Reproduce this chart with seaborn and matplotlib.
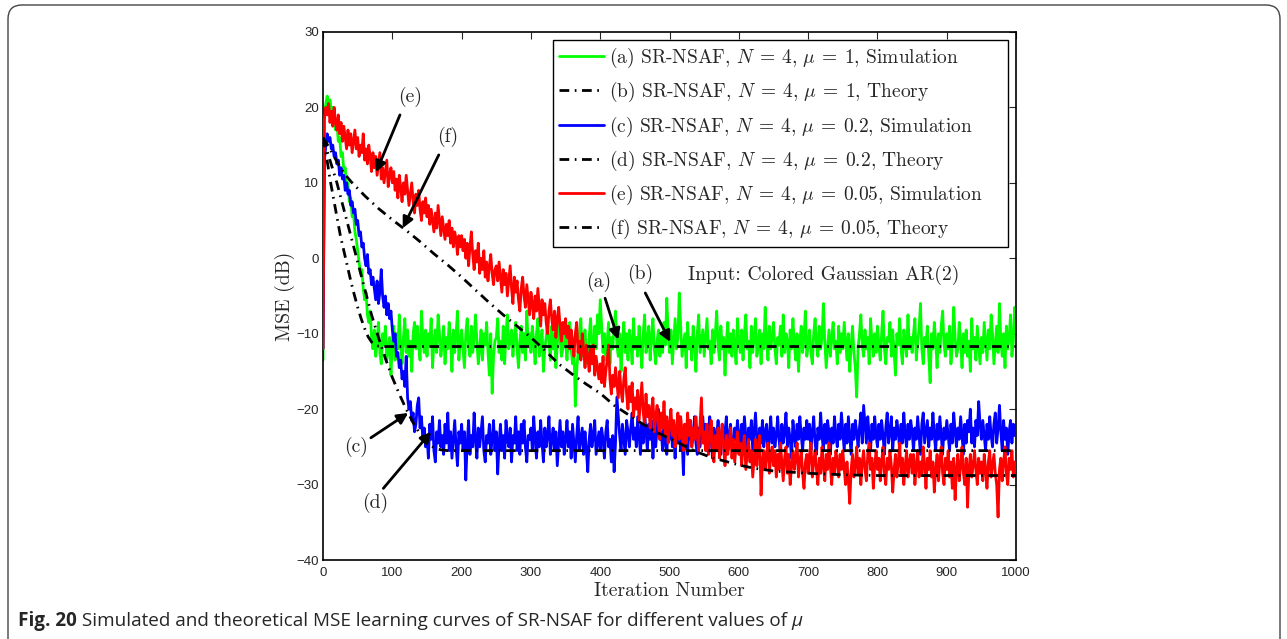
import numpy as np
import pandas as pd
import matplotlib
matplotlib.use("Agg")
import matplotlib.pyplot as plt
import seaborn as sns
from matplotlib.patches import FancyBboxPatch
from matplotlib.transforms import IdentityTransform

# ---------------- data ----------------
# learning curves sampled every 2 iterations (0 ... 1000)
iters = np.arange(0, 1001, 2)

# (a) mu = 1, simulation
sim_mu1 = [
    -13.5, 19, 20.5, 21.5, 20, 21, 19.5, 20, 18.5, 17, 18, 15.5, 16, 13.5, 14, 11.5, 12, 9.5, 10, 7.5, 8, 5.5, 6, 3.5, 2.5,
    1, -0.5, -2, -1.5, -4, -5.5, -4.5, -7.5, -8.5, -7, -10.5, -12, -9.5, -13, -11, -8.5, -12.5, -14, -10, -11.5, -9, -13.5, -12, -10.5, -15.5,
    -11, -9, -13.5, -10, -12, -7.5, -11.5, -14, -10.5, -8, -12.5, -9.5, -13, -11, -15, -10, -8.5, -12, -9, -11.5, -13.5, -7, -10.5, -12.5, -9.5,
    -13, -10, -11.5, -8, -14.5, -11, -9.5, -12.5, -7.5, -10, -13, -11.5, -9, -14, -10.5, -12, -8.5, -11, -15, -9.5, -12.5, -10, -7, -13.5, -11,
    -9.5, -12, -14.5, -10, -8, -11.5, -13, -9, -12.5, -10.5, -7.5, -11, -14, -12, -9.5, -13.5, -10, -11.5, -8.5, -12.5, -15.5, -10, -17.9, -13, -11,
    -10.5, -8, -12.5, -11, -13.5, -9, -14, -10, -7.5, -12, -11, -9.5, -13, -10.5, -8.5, -12, -14.5, -11, -9, -12.5, -10, -13.5, -7, -11.5, -10,
    -12.5, -9, -11, -14, -10, -8, -13, -11.5, -9.5, -15, -12, -10.5, -8.5, -11, -13.5, -9, -12, -10, -14.5, -11.5, -7.5, -10.5, -13, -12, -9.5,
    -11, -13.5, -10, -8.5, -12, -14, -11.5, -19.6, -15, -12.5, -10, -8, -13, -11, -9.5, -12.5, -14, -10.5, -8, -11.5, -13, -9, -12, -7.5, -10,
    -5.5, -9, -12.5, -10, -13.5, -11, -8.5, -14, -10.5, -12, -9, -7, -11.5, -13, -10, -15, -11, -8.5, -12.5, -10, -13.5, -9.5, -11, -14, -8,
    -12, -10.5, -13, -9, -11.5, -14.5, -10, -7.5, -12.5, -11, -9, -13.5, -10.5, -8, -12, -14, -11, -9.5, -13, -10, -12.5, -8.5, -11.5, -5.3, -10,
    -12.5, -9.5, -14, -11, -8, -12, -10.5, -4.6, -9, -13, -11.5, -10, -14.5, -8.5, -12, -10.5, -13.5, -9, -11, -15, -10, -7.5, -12.5, -11, -9.5,
    -13, -10.5, -8, -12, -11, -14, -9.5, -12.5, -10, -7, -11.5, -13.5, -9, -12, -10.5, -15.5, -11, -8.5, -12.5, -10, -13, -9.5, -11.5, -14, -8,
    -11, -12.5, -9.5, -13.5, -10, -7.5, -12, -11, -14.5, -9, -12.5, -10.5, -8, -13, -11.5, -9.5, -14, -10, -12, -6.5, -11, -13.5, -9, -12, -10.5,
    -8.5, -12, -14, -10.5, -11.5, -9, -13, -7.5, -12.5, -10, -11, -14.5, -9.5, -12, -8, -11.5, -13.5, -10, -15, -11, -9, -12.5, -10.5, -7, -13,
    -11.5, -9.5, -12.5, -14, -10, -8, -11.5, -13, -9, -12, -10.5, -6, -11, -14.5, -12, -9.5, -13, -10.5, -8.5, -12, -11, -14, -9, -12.5, -10,
    -12, -8.5, -11, -13.5, -10, -15, -11.5, -9, -12.5, -14.5, -18.4, -12, -10, -7.5, -11.5, -13, -9.5, -12, -10.5, -14, -8, -11, -13, -10, -12.5,
    -9, -11.5, -13.5, -10, -7, -12, -14, -10.5, -11, -8.5, -13, -9.5, -12.5, -15.5, -10, -11.5, -8, -12, -14, -9.5, -11, -13, -7.5, -12, -10.5,
    -12.5, -10, -8, -13.5, -11, -9.5, -6, -12, -14, -10.5, -11.5, -9, -13, -16.5, -10, -12, -8.5, -11, -14.5, -10, -12.5, -9, -7, -11.5, -13,
    -10, -12, -9, -14, -11.5, -6.5, -10.5, -13, -12, -8.5, -11, -14.5, -10, -12.5, -9.5, -13, -11, -15, -8, -12, -10.5, -13.5, -9, -11.5, -14,
    -10.5, -12.5, -8.5, -11, -13.5, -9.5, -12, -7.5, -10, -14, -11.5, -9, -12.5, -6, -11, -13, -10, -14.5, -9, -12, -10.5, -7.5, -13, -11, -6.5,
    -8,
]

# (c) mu = 0.2, simulation
sim_mu02 = [
    -12, 13, 15, 16.5, 15.5, 16, 14.5, 15, 13.5, 14, 12.5, 13, 11, 12, 10.5, 11, 9, 10, 8.5, 9, 7, 7.5, 6, 6.5, 4.5,
    5, 3, 3.5, 1.5, 2, 0, -1, 0.5, -2, -1.5, -3.5, -2.5, -4, -5.5, -3, -6, -4.5, -1.5, -5, -6.5, -5, -7.5, -6, -8, -7,
    -9.5, -11, -10, -13, -12.5, -14.5, -13.5, -16, -15, -17, -13, -18.5, -20, -19, -21.5, -20.5, -23, -22, -19.5, -18.5, -22.5, -21, -24, -22.5, -25,
    -23.5, -26.5, -22, -24, -21, -25.5, -27, -23, -24.5, -21.5, -25, -23.5, -26, -22, -24.5, -20.5, -25.5, -23, -26.5, -24, -21.5, -25, -27.5, -23, -24.5,
    -22, -25.5, -23, -29.4, -24.5, -21.5, -26, -23.5, -25, -20.5, -24, -26.5, -22.5, -25, -23, -21, -25.5, -27, -23.5, -24.5, -22, -26, -24, -21.5, -25.5,
    -23, -28.6, -24.5, -22, -25.5, -23.5, -26.5, -21.5, -24, -25, -22.5, -27, -23.5, -24.5, -21, -25.5, -23, -26, -22, -24.5, -21.5, -25, -27, -23.5, -24,
    -22.5, -25.5, -21, -24, -26.5, -23, -25, -21.5, -24.5, -27, -22.5, -25, -23.5, -21, -26, -24, -22.5, -25.5, -23, -27.5, -24.5, -21.5, -25, -23, -26,
    -24, -21.5, -25, -23, -26.5, -22, -24.5, -27, -23.5, -21, -25.5, -24, -22.5, -26, -23, -25.5, -28.3, -24, -22, -25, -23.5, -21.5, -26, -24.5, -23,
    -25.5, -22.5, -24, -26.5, -23, -21.5, -25, -24, -27, -23.5, -28.3, -24.5, -18.4, -21, -23.5, -25.5, -22, -24, -26, -21.5, -23, -25, -22.5, -20.5, -24,
    -22.5, -25, -21, -23.5, -26, -22, -24.5, -20.5, -23, -25.5, -22, -24, -21.5, -26.5, -23, -25, -22.5, -20, -24, -23, -25.5, -21.5, -24.5, -26, -22,
    -24, -21.5, -25, -23, -26.5, -22.5, -24.5, -21, -25.5, -23.5, -28.7, -22, -24, -26, -23, -21.5, -25, -23.5, -21, -24.5, -26, -22.5, -25, -23, -21,
    -24.5, -22, -25.5, -23, -21, -24, -26.5, -22.5, -25, -23.5, -21.5, -24, -26, -22, -24.5, -23, -21, -25.5, -23.5, -22, -24.5, -26, -22.5, -24, -21.5,
    -23.5, -25, -22, -24.5, -21, -23.5, -26, -22.5, -24, -21.5, -25.5, -23, -20.5, -24, -26, -22.5, -24.5, -21.5, -25, -23, -22, -26.5, -23.5, -21, -24.5,
    -22.5, -25, -23.5, -21, -24, -26, -22, -24.5, -23, -20.5, -25, -22.5, -24, -26.5, -21.5, -23.5, -25, -22, -24, -21, -23.5, -25.5, -22.5, -24, -21.5,
    -24, -22, -25.5, -23, -21, -24.5, -26, -22.5, -24, -20.5, -23.5, -25.5, -22, -24.5, -21.5, -23, -26, -22.5, -24.5, -21, -23.5, -25, -22, -24, -20.5,
    -23, -25.5, -22, -24.5, -21, -23.5, -26, -22, -24, -21.5, -23, -25, -22.5, -20.5, -24.5, -19.5, -22, -24.5, -21, -23.5, -25.5, -22, -24, -21, -23.5,
    -25, -22, -24, -21.5, -23.5, -26, -22.5, -20.5, -24.5, -23, -21, -25.5, -22.5, -24, -21.5, -23, -25.5, -22, -24.5, -20.5, -23.5, -25, -22, -24, -21.5,
    -23, -25.5, -22.5, -24, -21, -23.5, -26, -22, -20.5, -24.5, -23, -21.5, -25, -22.5, -24, -20.5, -23.5, -25.5, -22, -24, -21, -23.5, -26, -22.5, -24,
    -21.5, -23.5, -25.5, -22, -24.5, -20.5, -23, -25, -22.5, -24, -21, -23.5, -26, -22, -24.5, -21.5, -23, -20, -24.5, -22.5, -25, -21.5, -23.5, -19, -22,
    -24, -21.5, -23.5, -25.5, -22, -24, -21, -23.5, -25, -22, -20.5, -24.5, -22.5, -19.5, -23, -25.5, -21.5, -24, -22.5, -26, -23, -21.5, -24.5, -22, -23.5,
    -22,
]

# (e) mu = 0.05, simulation
sim_mu005 = [
    -12, 18.5, 20, 19, 20.5, 18, 19.5, 17.5, 20, 18, 17, 19, 16.5, 18, 15.5, 17.5, 16, 14.5, 17, 15, 16.5, 14, 15.5, 17, 14.5,
    16, 13.5, 15, 14, 16.5, 13, 14.5, 12.5, 15, 13.5, 11.5, 14, 12, 13.5, 11, 12.5, 14, 10.5, 12, 10, 11.5, 13, 9.5, 11, 12,
    10, 11.5, 9, 10.5, 8, 11, 9.5, 7.5, 10, 8.5, 11, 9, 7, 8.5, 10, 7.5, 6, 8.5, 7, 9, 6.5, 5, 7.5, 6, 8,
    5.5, 7, 4.5, 6.5, 5, 3.5, 6, 4, 7, 5, 3, 5.5, 4, 2.5, 4.5, 3, 5, 2, 4, 1.5, 3.5, 2.5, 0.5, 3, 1.5,
    3, 1, 2.5, 0, 2, -1, 1.5, 3.5, 0.5, -1.5, 1, -0.5, 2, -2, 0, -1.5, 1, -2.5, -0.5, -3, -1, 0.5, -2, -3.5, -1.5,
    -1, -3, -0.5, -2.5, -4.5, -1.5, -3.5, -2, -5, -3, -1, -4, -6, -2.5, -4.5, -3, -5.5, -7, -4, -2.5, -5, -6.5, -3.5, -5.5, -7.5,
    -4.5, -6, -8, -5, -7, -4, -6.5, -9, -5.5, -7.5, -6, -8.5, -10, -7, -5.5, -8, -9.5, -7, -10.5, -8, -6.5, -9, -11, -8.5, -10,
    -8, -10.5, -9, -12, -9.5, -11, -13, -10, -8.5, -12.5, -11, -13.5, -10, -12, -14.5, -11.5, -13, -15, -12, -14, -11.5, -15.5, -13, -14.5, -16,
    -14, -16.5, -13, -17, -15, -13.5, -11.5, -16, -18, -15.5, -17, -14.5, -16.5, -18.5, -15, -17.5, -19, -16, -14.5, -18, -20, -17, -19, -16.5, -21,
    -18.5, -20, -17.5, -21.5, -19, -16.5, -20.5, -22, -18, -21, -19.5, -22.5, -20, -18.5, -23, -21, -19.5, -22, -24, -20.5, -22.5, -19, -23.5, -21, -24.5,
    -22, -20, -23.5, -21.5, -25, -22.5, -20.5, -24, -21, -23, -25.5, -22, -24.5, -20.5, -23.5, -21.5, -25, -22.5, -24, -21, -23.5, -25.5, -22, -18.5, -24.5,
    -23, -25.5, -22, -26, -24, -21.5, -25, -27, -23.5, -25.5, -22.5, -26.5, -24, -22, -25, -27.5, -23.5, -26, -24.5, -22.5, -26.5, -24, -27, -25, -23,
    -26, -24.5, -27.5, -25, -23.5, -28, -26, -24, -27, -25.5, -29, -26.5, -24, -27.5, -25, -23.5, -31.4, -27, -25.5, -28, -26, -24.5, -28.5, -26.5, -25,
    -27.5, -25.5, -29, -26, -28, -24.5, -27, -29.5, -26.5, -25, -28.5, -26, -30, -27.5, -25.5, -28, -26.5, -24.5, -29, -27, -25.5, -28.5, -30.5, -27, -26,
    -28.5, -26, -24.5, -29, -27, -25.5, -28, -30, -26.5, -28.5, -25, -27.5, -29.5, -26, -28, -24.5, -27.5, -30, -26.5, -28.5, -25.5, -27, -29, -26, -28,
    -25.5, -28, -30, -27, -29.5, -32.5, -28, -26, -29, -27.5, -25, -28.5, -26.5, -30, -27, -25.5, -28, -29.5, -26, -24.5, -28, -26.5, -30.5, -27.5, -25.5,
    -28, -26.5, -29.5, -27, -25, -28.5, -30, -26.5, -28, -25.5, -27.5, -31, -28, -26, -29, -27, -24.5, -28.5, -26.5, -30, -27.5, -25.5, -29, -27, -26,
    -28.5, -26, -30, -27.5, -25.5, -29, -27, -28.5, -25, -27.5, -30.5, -26.5, -28, -25.5, -29, -27, -31, -28, -26, -29.5, -27, -25, -28.5, -30, -26.5,
    -28, -25.5, -29, -27, -30.5, -26.5, -32, -28, -26, -29.5, -27.5, -25, -28.5, -30, -26.5, -33, -28, -26, -29, -27.5, -25.5, -28, -30, -26.5, -28.5,
    -27, -29.5, -26, -28, -30.5, -27, -25.5, -29, -27.5, -26, -28.5, -30, -34.3, -28, -26.5, -29.5, -27, -25, -28.5, -30, -26.5, -28, -25.5, -29, -27,
    -28.5,
]

# (b) mu = 1, theory
th_mu1_x = [0, 5, 10, 15, 20, 25, 30, 35, 40, 45, 50, 55, 60, 65, 70, 75, 80, 90, 1000]
th_mu1_y = [16, 13.5, 10.5, 8, 5.5, 3, 1, -1, -3, -4.8, -6.5, -8, -9.3, -10.4,
            -11.1, -11.5, -11.65, -11.7, -11.7]

# (d) mu = 0.2, theory
th_mu02_x = [0, 10, 20, 30, 40, 50, 60, 70, 80, 90, 100, 110, 120, 130, 140, 150,
             160, 170, 180, 1000]
th_mu02_y = [16, 13, 10, 6.5, 3, -0.5, -4, -7.5, -10.5, -13.3, -15.8, -18, -20,
             -21.8, -23.3, -24.4, -25.1, -25.4, -25.5, -25.5]

# (f) mu = 0.05, theory
th_mu005_x = [0, 10, 20, 30, 40, 60, 80, 100, 120, 140, 160, 180, 200, 220, 240,
              260, 280, 300, 320, 340, 360, 380, 400, 420, 440, 460, 480, 500, 520,
              540, 560, 580, 600, 620, 650, 700, 750, 800, 1000]
th_mu005_y = [16, 14.5, 12.8, 11.3, 10.2, 8.3, 6.6, 5.1, 3.7, 2.2, 0.6, -0.9, -2.5,
              -4.2, -5.9, -7.5, -9, -10.5, -12.2, -14, -15.4, -16.7, -17.9, -19.5,
              -20.7, -21.9, -23, -23.9, -24.8, -25.7, -26.4, -26.9, -27.4, -27.8,
              -28.2, -28.5, -28.7, -28.8, -28.8]

labels = [
    r"(a) SR-NSAF, $N\:=\:4,\,\mu\:=\:1$, Simulation",
    r"(b) SR-NSAF, $N\:=\:4,\,\mu\:=\:1$, Theory",
    r"(c) SR-NSAF, $N\:=\:4,\,\mu\:=\:0.2$, Simulation",
    r"(d) SR-NSAF, $N\:=\:4,\,\mu\:=\:0.2$, Theory",
    r"(e) SR-NSAF, $N\:=\:4,\,\mu\:=\:0.05$, Simulation",
    r"(f) SR-NSAF, $N\:=\:4,\,\mu\:=\:0.05$, Theory",
]
# legend rows carry extra room on the right of the text
labels = [lab + "    " for lab in labels]

# ---------------- style ----------------
sns.set_style("white")
plt.rcParams["mathtext.fontset"] = "cm"
plt.rcParams["axes.unicode_minus"] = True
serif = ["cmr10", "DejaVu Serif"]
sans = ["Liberation Sans", "DejaVu Sans"]

fig = plt.figure(figsize=(12.87, 6.39), dpi=100)
ax = fig.add_axes([0.251, 0.1236, 0.5385, 0.8264])

sim_df = pd.DataFrame({"iter": iters, "mu1": sim_mu1, "mu02": sim_mu02, "mu005": sim_mu005})
dash = (0, (3.5, 2.0, 0.6, 2.0))
lw = 2.0

sns.lineplot(data=sim_df, x="iter", y="mu1", ax=ax, color="#00ff00", lw=lw,
             label=labels[0], zorder=2)
sns.lineplot(x=th_mu1_x, y=th_mu1_y, ax=ax, color="black", lw=lw, linestyle=dash,
             label=labels[1], zorder=5)
sns.lineplot(data=sim_df, x="iter", y="mu02", ax=ax, color="#0000ff", lw=lw,
             label=labels[2], zorder=3)
sns.lineplot(x=th_mu02_x, y=th_mu02_y, ax=ax, color="black", lw=lw, linestyle=dash,
             label=labels[3], zorder=5)
sns.lineplot(data=sim_df, x="iter", y="mu005", ax=ax, color="#ff0000", lw=lw,
             label=labels[4], zorder=4)
sns.lineplot(x=th_mu005_x, y=th_mu005_y, ax=ax, color="black", lw=lw, linestyle=dash,
             label=labels[5], zorder=5)

ax.set_xlim(0, 1000)
ax.set_ylim(-40, 30)
ax.set_xticks(np.arange(0, 1001, 100))
ax.set_yticks(np.arange(-40, 31, 10))
ax.tick_params(direction="in", length=5, width=0.8, top=True, right=True,
               labelsize=9.5)
ax.tick_params(axis="x", pad=5)
ax.tick_params(axis="y", pad=3)
for lab in ax.get_xticklabels() + ax.get_yticklabels():
    lab.set_family(sans)
for sp in ax.spines.values():
    sp.set_color("black")
    sp.set_linewidth(1.2)

ax.set_xlabel("Iteration Number", family=serif, fontsize=14.2, labelpad=2.5)
ax.set_ylabel("MSE (dB)", family=serif, fontsize=14.2, labelpad=1)

leg = ax.legend(loc="upper right", prop={"family": serif, "size": 14},
                frameon=True, fancybox=False, edgecolor="black", framealpha=1,
                handlelength=2.3, handletextpad=0.25, labelspacing=0.52,
                borderpad=0.32, borderaxespad=0.4)
leg.get_frame().set_linewidth(1.0)

# ---------------- annotations ----------------
txt_kw = dict(family=serif, fontsize=14.2, ha="center", va="center")
arrow_kw = dict(arrowstyle="-|>", color="black", lw=2.0, mutation_scale=16,
                shrinkA=0, shrinkB=0)
notes = [
    ("(e)", (125, 21.4), (111, 19.0), (76.5, 11.4)),
    ("(f)", (180, 16.1), (167, 13.7), (115, 4.0)),
    ("(c)", (48, -25.0), (69, -23.8), (123, -20.5)),
    ("(d)", (75, -32.4), (87, -30.5), (156, -23.0)),
    ("(a)", (398, -3.1), (407, -5.3), (426, -10.8)),
    ("(b)", (457, -2.1), (465, -4.6), (501, -11.1)),
]
for text, tpos, tail, head in notes:
    ax.text(*tpos, text, **txt_kw, zorder=6)
    ax.annotate("", xy=head, xytext=tail, arrowprops=arrow_kw, zorder=6)

ax.text(723, -2.2, "Input: Colored Gaussian AR(2)", **txt_kw, zorder=6)

# ---------------- caption and frame ----------------
frame = FancyBboxPatch((8, -30), 1272, 664, boxstyle="round,pad=0,rounding_size=14",
                       transform=IdentityTransform(), fill=False,
                       edgecolor="#444444", lw=1.0)
fig.patches.append(frame)

cap_family = ["Open Sans", "DejaVu Sans"]
cap_size = 13.6
t1 = fig.text(18 / 1287, 1 - 621 / 639, "Fig. 20", family=cap_family,
              fontsize=cap_size, fontweight="bold", va="center", ha="left")
a2 = fig.add_artist(plt.Annotation(
    " Simulated and theoretical MSE learning curves of SR-NSAF for different values of ",
    xy=(1, 0.5), xycoords=t1, va="center", ha="left", family=cap_family,
    fontsize=cap_size))
fig.add_artist(plt.Annotation("μ", xy=(1, 0.5), xycoords=a2, va="center", ha="left",
                              family=cap_family, fontsize=cap_size, style="italic"))

fig.savefig("out.png", dpi=100)
